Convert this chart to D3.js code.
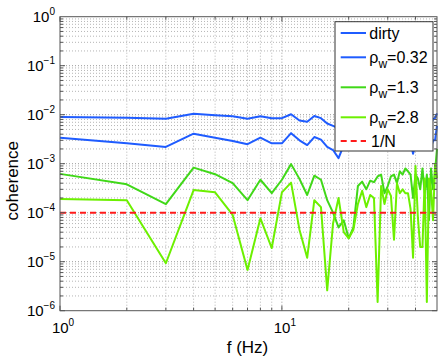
<!DOCTYPE html>
<html>
<head>
<meta charset="utf-8">
<script src="https://cdn.jsdelivr.net/npm/d3@7"></script>
<style>
	body { margin: 0; background: #fff; }
	svg text { font-family: "Liberation Sans", Arial, sans-serif; fill: #000; }
</style>
</head>
<body>
<div id="___coherence_chart"></div>
<script>
// frequency bins (Hz)
const freq = [1, 2, 3, 4, 5, 6, 7, 8, 9, 10, 11, 12, 13, 14, 15, 16, 17, 18, 19, 20,
	21, 22, 23, 24, 25, 26, 27, 28, 29, 30, 31, 32, 33, 34, 35, 36, 37, 38, 39, 40,
	41, 42, 43, 44, 45, 46, 47, 48, 49, 50];

const dirty = [0.0090, 0.0087, 0.0083, 0.0105, 0.0098, 0.0093, 0.0083, 0.0093, 0.0085, 0.0085,
	0.0102, 0.0076, 0.0072, 0.0094, 0.0085, 0.0066, 0.0059, 0.0053, 0.0072, 0.0065,
	0.0078, 0.0062, 0.0070, 0.0081, 0.0066, 0.0074, 0.0060, 0.0079, 0.0068, 0.0072,
	0.0085, 0.0064, 0.0070, 0.0077, 0.0062, 0.0075, 0.0069, 0.0080, 0.0058, 0.0071,
	0.0083, 0.0066, 0.0074, 0.0061, 0.0078, 0.0070, 0.0065, 0.0082, 0.0085, 0.0107];

const rho032 = [0.0034, 0.0026, 0.0022, 0.0041, 0.0034, 0.0029, 0.0025, 0.0034, 0.0026, 0.0026,
	0.0042, 0.0030, 0.0024, 0.0035, 0.0031, 0.0022, 0.0019, 0.0013, 0.0024, 0.0021,
	0.0028, 0.0020, 0.0025, 0.0031, 0.0022, 0.0027, 0.0019, 0.0030, 0.0024, 0.0021,
	0.0033, 0.0023, 0.0026, 0.0029, 0.0020, 0.0027, 0.0024, 0.0030, 0.0016, 0.0025,
	0.0032, 0.0022, 0.0027, 0.0019, 0.0028, 0.0023, 0.0021, 0.0030, 0.0030, 0.0059];

const rho13 = [6.2e-4, 3.8e-4, 1.5e-4, 8.3e-4, 6.1e-4, 4.0e-4, 1.8e-4, 4.7e-4, 2.5e-4, 4.7e-4,
	9.8e-4, 4.9e-4, 2.3e-4, 5.7e-4, 4.7e-4, 1.8e-4, 1.0e-4, 5.0e-5, 7.0e-5, 3.0e-5,
	5.0e-5, 3.5e-4, 4.3e-4, 3.0e-4, 4.5e-4, 4.2e-4, 5.5e-4, 6.0e-4, 2.5e-4, 3.5e-4,
	5.5e-4, 6.0e-4, 4.0e-4, 7.0e-4, 6.0e-4, 8.0e-4, 7.0e-4, 6.0e-4, 2.0e-4, 6.0e-4,
	5.0e-4, 3.0e-4, 8.0e-4, 2.5e-4, 6.0e-4, 7.0e-5, 8.0e-4, 3.0e-4, 7.0e-4, 2.0e-3];

const rho28 = [1.9e-4, 1.8e-4, 9.3e-6, 2.9e-4, 2.6e-4, 9.0e-5, 6.8e-6, 7.7e-5, 1.9e-5, 2.6e-4,
	4.1e-4, 4.5e-5, 1.2e-5, 1.8e-4, 1.3e-4, 2.6e-6, 6.0e-5, 2.0e-4, 4.0e-5, 3.0e-5,
	4.5e-5, 1.5e-4, 2.8e-4, 1.3e-4, 2.3e-4, 2.0e-4, 1.5e-6, 3.5e-4, 1.5e-4, 3.0e-4,
	2.2e-4, 2.8e-5, 4.0e-4, 2.5e-4, 3.0e-4, 2.5e-4, 2.5e-4, 1.2e-4, 1.2e-5, 9.0e-4,
	8.0e-5, 2.0e-5, 2.0e-5, 5.0e-4, 1.5e-6, 5.0e-4, 3.0e-4, 7.0e-5, 1.0e-3, 5.0e-4];

const invN = 1e-4;

const xTicks = [1, 10];
const yTicks = [1e-6, 1e-5, 1e-4, 1e-3, 1e-2, 1e-1, 1];

const series = [
	{ name: "dirty", sub: null, values: dirty, color: "#1f5cff" },
	{ name: "\u03C1", sub: "w", rest: "=0.32", values: rho032, color: "#1f5cff" },
	{ name: "\u03C1", sub: "w", rest: "=1.3", values: rho13, color: "#40d818" },
	{ name: "\u03C1", sub: "w", rest: "=2.8", values: rho28, color: "#6cf000" }
];

var margin = { top: 16.7, right: 6, bottom: 45.3, left: 60 },
	width = 443 - margin.left - margin.right,
	height = 356 - margin.top - margin.bottom;

var svg = d3.select("#___coherence_chart")
	.append("svg")
	.attr("width", 443)
	.attr("height", 356)
	.append("g")
	.attr("transform", "translate(" + margin.left + "," + margin.top + ")");

var x = d3.scaleLog().domain([1, 50]).range([0, width]);
var y = d3.scaleLog().domain([1e-6, 1]).range([height, 0]);

// grid (major + minor, matlab style)
var xGrid = [2, 3, 4, 5, 6, 7, 8, 9, 10, 20, 30, 40];
var yGrid = [];
for (var e = -6; e < 0; e++) {
	for (var m = 1; m < 10; m++) yGrid.push(m * Math.pow(10, e));
}

var grid = svg.append("g").attr("class", "grid");
grid.selectAll(".gx").data(xGrid).enter().append("line")
	.attr("x1", d => x(d)).attr("x2", d => x(d))
	.attr("y1", 0).attr("y2", height)
	.attr("stroke", d => d === 10 ? "#999" : "#b5b5b5")
	.attr("stroke-width", 1)
	.attr("stroke-dasharray", "1,2");
grid.selectAll(".gy").data(yGrid.filter(d => d > 1e-6)).enter().append("line")
	.attr("x1", 0).attr("x2", width)
	.attr("y1", d => y(d)).attr("y2", d => y(d))
	.attr("stroke", d => Math.abs(Math.log10(d) % 1) < 1e-9 ? "#999" : "#b5b5b5")
	.attr("stroke-width", 1)
	.attr("stroke-dasharray", "1,2");

// data lines
var line = d3.line()
	.x((d, i) => x(freq[i]))
	.y(d => y(d));

series.forEach(function (s) {
	svg.append("path")
		.datum(s.values)
		.attr("fill", "none")
		.attr("stroke", s.color)
		.attr("stroke-width", 2)
		.attr("stroke-linejoin", "round")
		.attr("d", line);
});

// 1/N
svg.append("line")
	.attr("x1", x(1)).attr("x2", x(50))
	.attr("y1", y(invN)).attr("y2", y(invN))
	.attr("stroke", "#ff1a1a")
	.attr("stroke-width", 2)
	.attr("stroke-dasharray", "6,4");

// ticks inside, all four sides
var tk = svg.append("g").attr("stroke", "#555").attr("stroke-width", 1);
xGrid.concat([1]).forEach(function (d) {
	var len = (d === 1 || d === 10) ? 5 : 3;
	tk.append("line").attr("x1", x(d)).attr("x2", x(d)).attr("y1", height).attr("y2", height - len);
	tk.append("line").attr("x1", x(d)).attr("x2", x(d)).attr("y1", 0).attr("y2", len);
});
yGrid.forEach(function (d) {
	var len = Math.abs(Math.log10(d) % 1) < 1e-9 ? 5 : 3;
	tk.append("line").attr("y1", y(d)).attr("y2", y(d)).attr("x1", 0).attr("x2", len);
	tk.append("line").attr("y1", y(d)).attr("y2", y(d)).attr("x1", width).attr("x2", width - len);
});

// box
svg.append("rect")
	.attr("x", 0).attr("y", 0)
	.attr("width", width).attr("height", height)
	.attr("fill", "none")
	.attr("stroke", "#555")
	.attr("stroke-width", 1);

// tick labels
function powLabel(sel, v) {
	var ex = Math.round(Math.log10(v));
	sel.append("tspan").text("10");
	sel.append("tspan")
		.attr("dy", -7)
		.style("font-size", "10px")
		.text(ex < 0 ? "\u2212" + (-ex) : ex);
}

svg.selectAll(".ylab").data(yTicks).enter().append("text")
	.attr("x", -5)
	.attr("y", d => y(d) + 5)
	.attr("text-anchor", "end")
	.style("font-size", "15px")
	.each(function (d) { powLabel(d3.select(this), d); });

svg.selectAll(".xlab").data(xTicks).enter().append("text")
	.attr("x", d => x(d) + 3)
	.attr("y", height + 22)
	.attr("text-anchor", "middle")
	.style("font-size", "15px")
	.each(function (d) { powLabel(d3.select(this), d); });

// axis titles
svg.append("text")
	.attr("x", width / 2 - 1)
	.attr("y", height + 42)
	.attr("text-anchor", "middle")
	.style("font-size", "17px")
	.text("f (Hz)");

svg.append("text")
	.attr("transform", "translate(-42," + (height / 2 + 17) + ") rotate(-90)")
	.attr("text-anchor", "middle")
	.style("font-size", "17px")
	.text("coherence");

// legend
var legend = svg.append("g").attr("transform", "translate(275,5)");
legend.append("rect")
	.attr("x", 0).attr("y", 0)
	.attr("width", 98).attr("height", 129.3)
	.attr("fill", "#fff")
	.attr("stroke", "#333")
	.attr("stroke-width", 1);

var rowY = [11.3, 35.6, 65.6, 95.6, 119.3];
series.forEach(function (s, i) {
	var g = legend.append("g").attr("transform", "translate(0," + rowY[i] + ")");
	g.append("line")
		.attr("x1", 5.7).attr("x2", 31)
		.attr("stroke", s.color).attr("stroke-width", 2);
	var t = g.append("text")
		.attr("x", 34.3).attr("y", 5.5)
		.style("font-size", "16px");
	t.append("tspan").text(s.name);
	if (s.sub) {
		t.append("tspan").attr("dy", 5).style("font-size", "12px").text(s.sub);
		t.append("tspan").attr("dy", -5).text(s.rest);
	}
});
var gN = legend.append("g").attr("transform", "translate(0," + rowY[4] + ")");
gN.append("line")
	.attr("x1", 5.7).attr("x2", 31)
	.attr("stroke", "#ff1a1a").attr("stroke-width", 2)
	.attr("stroke-dasharray", "6,4");
gN.append("text")
	.attr("x", 36).attr("y", 5.5)
	.style("font-size", "16px")
	.text("1/N");
</script>
</body>
</html>
